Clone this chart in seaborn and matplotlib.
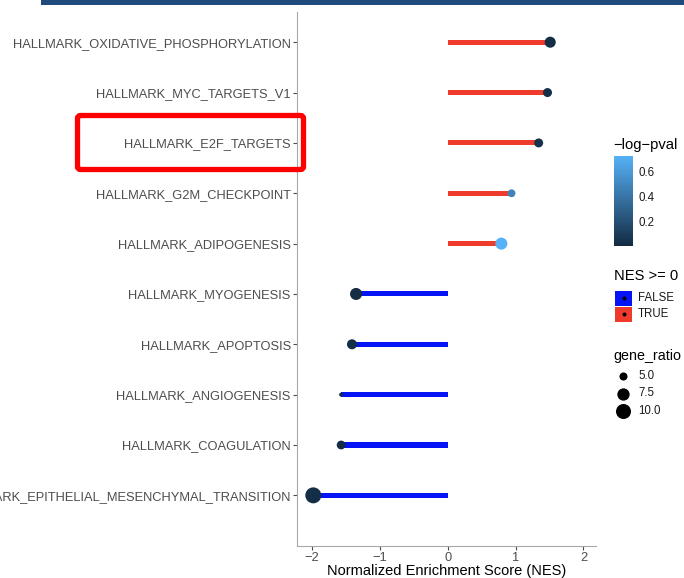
import numpy as np
import pandas as pd
import matplotlib
matplotlib.use("Agg")
import matplotlib.pyplot as plt
import seaborn as sns
from matplotlib.colors import LinearSegmentedColormap, Normalize
from matplotlib.cm import ScalarMappable
from matplotlib.patches import Rectangle, FancyBboxPatch

# ---------------- data ----------------
pathways = [
    "HALLMARK_OXIDATIVE_PHOSPHORYLATION",
    "HALLMARK_MYC_TARGETS_V1",
    "HALLMARK_E2F_TARGETS",
    "HALLMARK_G2M_CHECKPOINT",
    "HALLMARK_ADIPOGENESIS",
    "HALLMARK_MYOGENESIS",
    "HALLMARK_APOPTOSIS",
    "HALLMARK_ANGIOGENESIS",
    "HALLMARK_COAGULATION",
    "HALLMARK_EPITHELIAL_MESENCHYMAL_TRANSITION",
]
nes = [1.51, 1.47, 1.34, 0.94, 0.79, -1.35, -1.41, -1.57, -1.57, -1.98]
gene_ratio = [6.6, 5.4, 5.4, 4.9, 7.3, 7.3, 5.95, 4.2, 5.3, 11.1]
neg_log_pval = [0.02, 0.03, 0.04, 0.48, 0.727, 0.01, 0.02, 0.003, 0.01, 0.02]
x_ticks = [-2, -1, 0, 1, 2]
cbar_ticks = [0.2, 0.4, 0.6]
size_breaks = [5.0, 7.5, 10.0]
sign_levels = ["FALSE", "TRUE"]

df = pd.DataFrame({
    "pathway": pathways,
    "NES": nes,
    "gene_ratio": gene_ratio,
    "neg_log_pval": neg_log_pval,
})
df["sign"] = np.where(df["NES"] >= 0, "TRUE", "FALSE")

# ---------------- styles ----------------
RED = "#EE3B2B"
BLUE = "#0514F5"
sign_palette = {"FALSE": BLUE, "TRUE": RED}
cmap = LinearSegmentedColormap.from_list("gg_blue", ["#132B43", "#56B1F7"])
cnorm = Normalize(min(neg_log_pval), max(neg_log_pval))
gmin, gmax = min(gene_ratio), max(gene_ratio)


def size_area(v):
    """ggplot-like area scale: diameter grows with sqrt of rescaled value."""
    frac = np.clip((v - gmin) / (gmax - gmin), 0, None)
    d_px = 4 + 12 * np.sqrt(frac)
    return float((d_px * 0.72) ** 2)


size_map = {v: size_area(v) for v in sorted(set(gene_ratio))}

sns.set_theme(style="white")
plt.rcParams["font.family"] = ["Liberation Sans", "DejaVu Sans"]

W, H = 684, 578
fig = plt.figure(figsize=(W / 100, H / 100), dpi=100)
fig.patch.set_facecolor("white")

# main panel
L, R, T, B = 297, 595.7, 12, 545.7
ax = fig.add_axes([L / W, 1 - B / H, (R - L) / W, (B - T) / H])

sns.barplot(data=df, x="NES", y="pathway", hue="sign", palette=sign_palette,
            order=pathways, hue_order=sign_levels, dodge=False, width=0.1,
            errorbar=None, saturation=1, linewidth=0, legend=False, ax=ax,
            orient="h")
sns.scatterplot(data=df, x="NES", y="pathway", hue="neg_log_pval", palette=cmap,
                hue_norm=cnorm, size="gene_ratio", sizes=size_map,
                linewidth=0, legend=False, ax=ax, zorder=3)

ax.set_xlim(-2.22, 2.18)
ax.set_ylim(10.0, -0.6)
ax.set_xticks(x_ticks)
ax.set_xticklabels([f"{t:d}".replace("-", "\u2212") for t in x_ticks])
ax.set_ylabel("")
ax.set_xlabel("Normalized Enrichment Score (NES)", fontsize=10.5, color="black",
              labelpad=0)
for s in ["top", "right"]:
    ax.spines[s].set_visible(False)
for s in ["left", "bottom"]:
    ax.spines[s].set_color("#a8a8a8")
    ax.spines[s].set_linewidth(0.8)
ax.tick_params(axis="both", length=3, width=0.8, color="#4d4d4d",
               labelcolor="#4d4d4d", labelsize=9.25, pad=1.5,
               left=True, bottom=True)
ax.grid(False)

# ---------------- legends ----------------
# colour bar
cb_l, cb_r, cb_t, cb_b = 614, 633, 156, 245.7
cax = fig.add_axes([cb_l / W, 1 - cb_b / H, (cb_r - cb_l) / W, (cb_b - cb_t) / H])
cb = fig.colorbar(ScalarMappable(norm=cnorm, cmap=cmap), cax=cax, ticks=cbar_ticks)
cb.outline.set_visible(False)
cax.tick_params(direction="in", length=3.5, width=0.8, color="white",
                labelcolor="#1a1a1a", labelsize=8.3, pad=4,
                left=True, right=True, labelleft=False, labelright=True)
cax.set_yticklabels([f"{t:.1f}" for t in cbar_ticks])

# overlay in pixel coordinates for the legend keys and decorations
ov = fig.add_axes([0, 0, 1, 1], zorder=5)
ov.set_xlim(0, W)
ov.set_ylim(H, 0)
ov.axis("off")
ov.patch.set_alpha(0)

ov.text(613, 145, "\u2212log\u2212pval", fontsize=10.6, color="black",
        va="center", ha="left")

ov.text(614, 276.5, "NES >= 0", fontsize=10.6, color="black", va="center", ha="left")
key_tops = [290.7, 306.5]
for lvl, top in zip(sign_levels, key_tops):
    ov.add_patch(Rectangle((615, top), 17, 15, facecolor=sign_palette[lvl],
                           edgecolor="none"))
    ov.scatter([623.5], [top + 7.5], s=(4 * 0.72) ** 2, color="black", zorder=6,
               linewidth=0)
    ov.text(638, top + 7.5, lvl, fontsize=8.3, color="#1a1a1a", va="center",
            ha="left")

ov.text(613, 356, "gene_ratio", fontsize=10.3, color="black", va="center", ha="left")
for br, yy in zip(size_breaks, [376, 393.5, 411]):
    ov.scatter([622.5], [yy], s=size_area(br), color="black", linewidth=0, zorder=6)
    ov.text(638, yy, f"{br:.1f}", fontsize=8.3, color="#1a1a1a", va="center",
            ha="left")

# top banner and highlight box
ov.add_patch(Rectangle((41, 0), W - 41, 5, facecolor="#1F4A7D", edgecolor="none"))
ov.add_patch(FancyBboxPatch((77.5, 115.5), 226, 54,
                            boxstyle="round,pad=0,rounding_size=3",
                            facecolor="none", edgecolor="#FF0000", linewidth=3.8))

fig.savefig("out.png", dpi=100, facecolor="white")
